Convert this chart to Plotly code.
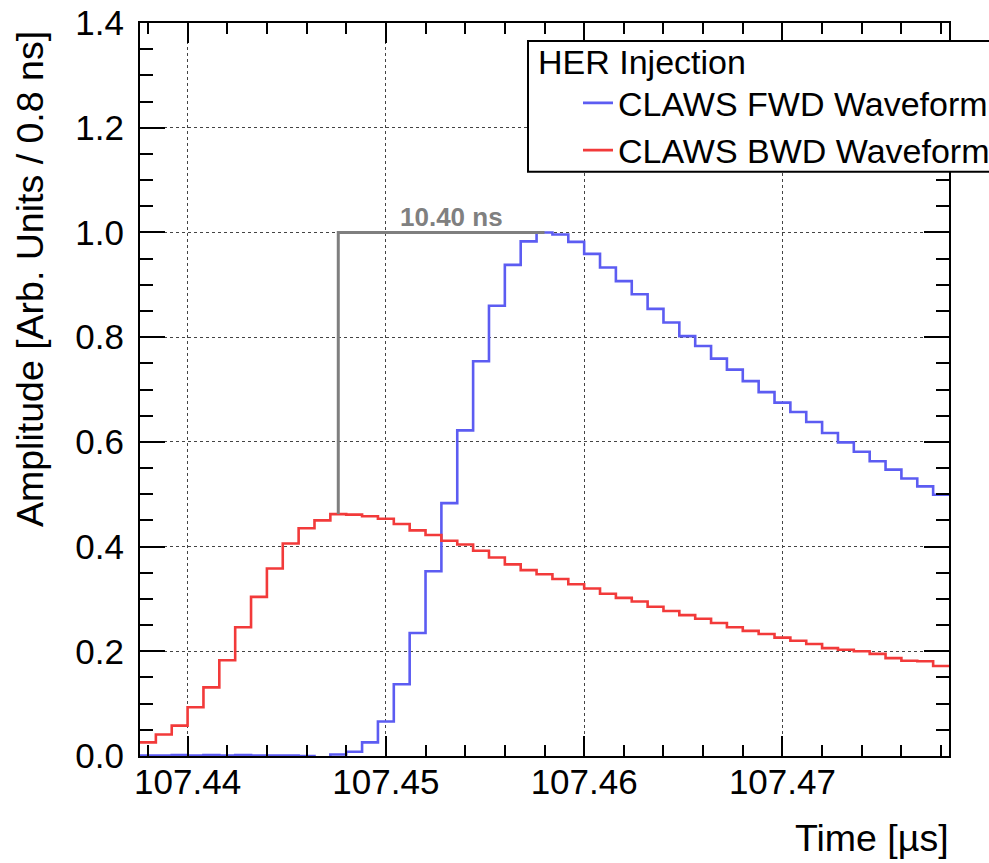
import plotly.graph_objects as go

# Histogram binning (time in microseconds)
x_start = 107.4376
bin_width = 0.0008  # 0.8 ns
n_bins = 51

fwd_values = [0.001, 0.001, 0.002, 0.001, 0.002, 0.001, 0.002, 0.001, 0.001, 0.001,
              0.000, -0.003, 0.003, 0.008, 0.026, 0.066, 0.137, 0.235, 0.353, 0.483,
              0.622, 0.754, 0.860, 0.938, 0.983, 1.000, 0.996, 0.982, 0.959, 0.933,
              0.907, 0.882, 0.854, 0.828, 0.802, 0.783, 0.759, 0.738, 0.716, 0.695,
              0.675, 0.657, 0.638, 0.617, 0.599, 0.581, 0.563, 0.547, 0.530, 0.515,
              0.499]

bwd_values = [0.026, 0.041, 0.058, 0.093, 0.131, 0.183, 0.246, 0.304, 0.358, 0.406,
              0.435, 0.450, 0.462, 0.461, 0.458, 0.453, 0.443, 0.431, 0.422, 0.411,
              0.404, 0.392, 0.379, 0.366, 0.355, 0.347, 0.338, 0.328, 0.320, 0.310,
              0.302, 0.295, 0.285, 0.277, 0.269, 0.262, 0.254, 0.246, 0.239, 0.233,
              0.226, 0.220, 0.214, 0.206, 0.203, 0.200, 0.195, 0.187, 0.182, 0.181,
              0.172]

x_tickvals = [107.44, 107.45, 107.46, 107.47]
x_ticktext = ["107.44", "107.45", "107.46", "107.47"]
y_tickvals = [0.0, 0.2, 0.4, 0.6, 0.8, 1.0, 1.2, 1.4]
y_ticktext = ["0.0", "0.2", "0.4", "0.6", "0.8", "1.0", "1.2", "1.4"]

series_names = ["CLAWS FWD Waveform", "CLAWS BWD Waveform"]
legend_title = "HER Injection"
x_title = "Time [µs]"
y_title = "Amplitude [Arb. Units / 0.8 ns]"

FONT = "Liberation Sans, Arial, Helvetica, sans-serif"

edges = [x_start + i * bin_width for i in range(n_bins + 1)]
centers = [x_start + (i + 0.5) * bin_width for i in range(n_bins)]

fig = go.Figure()
fig.add_trace(go.Scatter(x=edges, y=fwd_values + [fwd_values[-1]], mode="lines",
                         line=dict(shape="hv", color="#5c5cf2", width=2.6),
                         name=series_names[0]))
fig.add_trace(go.Scatter(x=edges, y=bwd_values + [bwd_values[-1]], mode="lines",
                         line=dict(shape="hv", color="#f23a3a", width=2.6),
                         name=series_names[1]))

# Peak-to-peak marker
i_b = max(range(n_bins), key=lambda i: bwd_values[i])
i_f = max(range(n_bins), key=lambda i: fwd_values[i])
xb, xf = centers[i_b], centers[i_f]
peak_level = fwd_values[i_f]
fig.add_trace(go.Scatter(x=[xb, xb, xf], y=[bwd_values[i_b], peak_level, peak_level],
                         mode="lines", line=dict(color="#7f7f7f", width=3),
                         showlegend=False, hoverinfo="skip"))
dt_ns = (xf - xb) * 1000
fig.add_annotation(x=(xb + xf) / 2 + 0.0005, y=peak_level, xref="x", yref="y",
                   text=f"<b>{dt_ns:.2f} ns</b>", showarrow=False, yanchor="bottom",
                   yshift=-2, font=dict(family=FONT, size=26, color="#808080"))

fig.add_annotation(x=1, y=0, xref="paper", yref="paper", text=x_title, showarrow=False,
                   xanchor="right", yanchor="middle", yshift=-82, xshift=2,
                   font=dict(family=FONT, size=37.5, color="black"))
fig.add_annotation(x=0, y=1, xref="paper", yref="paper", text=y_title, showarrow=False,
                   textangle=-90, xanchor="center", yanchor="top", xshift=-110, yshift=-6,
                   font=dict(family=FONT, size=37.5, color="black"))

# Legend frame (extends past the right edge, as in the original) and title
fig.add_shape(type="rect", xref="paper", yref="paper", x0=0.4796, x1=1.2, y0=0.7972, y1=0.9755,
              line=dict(color="black", width=2), fillcolor="white", layer="above")
fig.add_annotation(x=0.490, y=0.9468, xref="paper", yref="paper", text=legend_title,
                   showarrow=False, xanchor="left", yanchor="middle",
                   font=dict(family=FONT, size=34, color="black"))

axis_common = dict(showline=True, linecolor="black", linewidth=2, mirror="allticks",
                   ticks="inside", tickcolor="black", tickwidth=2,
                   showgrid=True, gridcolor="#444444", gridwidth=1, griddash="dot",
                   zeroline=False, tickfont=dict(family=FONT, size=35, color="black"))

fig.update_xaxes(range=[edges[0], edges[-1]], tickvals=x_tickvals, ticktext=x_ticktext,
                 ticklen=20,
                 minor=dict(dtick=0.002, tick0=107.44, ticklen=11, ticks="inside",
                            tickcolor="black", tickwidth=2, showgrid=False),
                 ticklabelstandoff=-6, **axis_common)
fig.update_yaxes(range=[0, 1.4], tickvals=y_tickvals, ticktext=y_ticktext,
                 ticklen=25,
                 minor=dict(dtick=0.05, tick0=0, ticklen=13, ticks="inside",
                            tickcolor="black", tickwidth=2, showgrid=False),
                 ticklabelstandoff=7, **axis_common)

fig.update_layout(
    width=989, height=863,
    margin=dict(l=140, r=40, t=23, b=107, autoexpand=False),
    paper_bgcolor="white", plot_bgcolor="white",
    showlegend=True,
    legend=dict(x=0.5414, y=0.930, xanchor="left", yanchor="top",
                bgcolor="rgba(0,0,0,0)", borderwidth=0,
                font=dict(family=FONT, size=34, color="black"),
                tracegroupgap=0),
)

fig.write_html("out.html")
